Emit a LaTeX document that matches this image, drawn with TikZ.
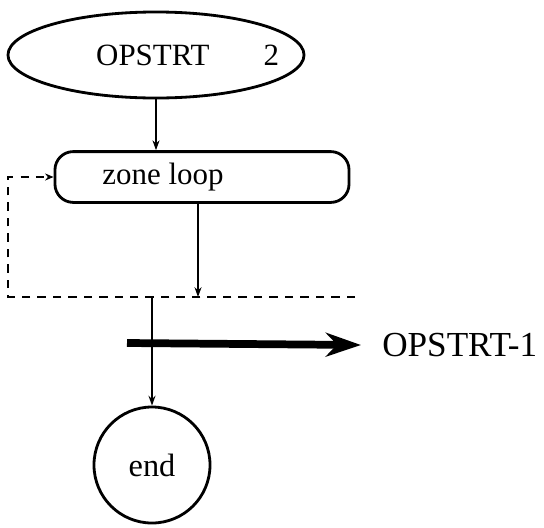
\documentclass[tikz,border=0pt]{standalone}
\usepackage{fontspec}
\setmainfont{Liberation Serif}
\usetikzlibrary{
    positioning,                      % right=of, below=of, etc.
    arrows.meta,                      % puntas modernas
    shapes.geometric                  % ellipse
}
\tikzset{
    terminal/.style={
        ellipse, draw, line width=2pt,
        minimum width=7.4cm, minimum height=2.15cm,
        inner sep=0pt
    },
    block/.style={
        rectangle, draw, line width=2pt, rounded corners=13pt,
        minimum width=7.35cm, minimum height=1.27cm,
        inner sep=0pt
    },
    stopnode/.style={
        circle, draw, line width=2pt,
        minimum size=2.9cm, inner sep=0pt
    },
    arrow/.style={
        -{Stealth[length=7pt,width=5pt]}, line width=1pt
    },
    back/.style={
        -{Stealth[length=6pt,width=5pt]}, line width=1.3pt,
        dash pattern=on 6pt off 5pt
    },
    bus/.style={
        -{Stealth[length=25pt,width=17pt]}, line width=5.5pt
    }
}

\begin{document}
\begin{tikzpicture}[x=0.025cm, y=-0.025cm, font=\fontsize{22}{26}\selectfont]
    \useasboundingbox (0,0) rectangle (544,527);
    % nodos
    \node[terminal] (start) at (156,55)
        {\makebox[0pt]{\hspace*{1.58cm}OPSTRT\hspace{1.35cm}2}};
    \node[block] (zone) at (202,177)
        {\makebox[0pt]{zone loop\hspace*{1.95cm}}};
    \node[stopnode] (stop) at (152,465) {\fontsize{23}{26}\selectfont end};
    \node[anchor=west, inner sep=0pt, font=\fontsize{25}{28}\selectfont]
        (next) at (382,345) {OPSTRT-1};
    % puntos auxiliares
    \coordinate (zonebot) at (198,297);
    \coordinate (loopend) at (355,297);
    \coordinate (loopcorner) at (8,297);
    \coordinate (exit) at (152,297);
    \coordinate (out) at (127,343);
    % conexiones
    \draw[arrow] (start.south) -- (start.south |- zone.north);
    \draw[arrow] (zone.south -| zonebot) -- (zonebot);
    \draw[back] (loopend) -- (loopcorner) |- (zone.west);
    \draw[arrow] (exit) -- (stop);
    \draw[bus] (out) -- ([xshift=-15pt]next.west);
\end{tikzpicture}
\end{document}
